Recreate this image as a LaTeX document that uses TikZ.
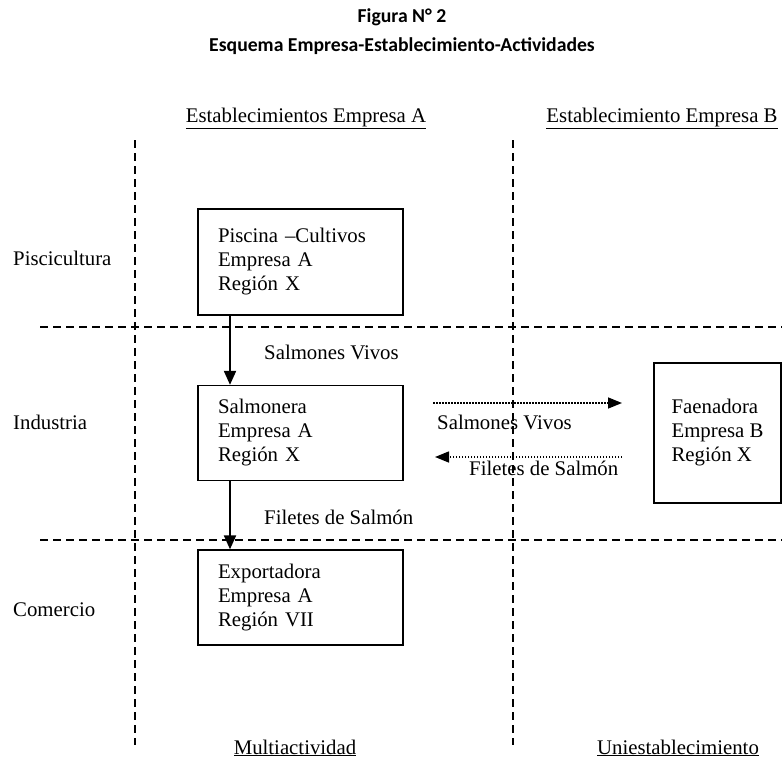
\documentclass[tikz,border=0pt]{standalone}
\usepackage{fontspec}
\setmainfont{Liberation Serif}
\newfontfamily\titlefont{Carlito}
\usetikzlibrary{arrows.meta,positioning,calc}

\tikzset{
  txt/.style={font=\fontsize{20.8bp}{24bp}\selectfont, inner sep=0pt},
  titletext/.style={font=\titlefont\bfseries\fontsize{19.7bp}{24bp}\selectfont, inner sep=0pt, anchor=base},
  divline/.style={line width=1.3bp, dash pattern=on 8bp off 5bp},
  estab/.style={draw, line width=1.3bp, txt, align=left, inner xsep=20bp, text width=165bp, minimum width=205bp},
  otherbox/.style={draw, line width=1.3bp, txt, align=left, minimum width=127bp, minimum height=140bp},
  flow/.style={line width=2bp, -{Triangle[length=14bp,width=12bp]}},
  flowdot/.style={line width=1.5bp, dash pattern=on 1.5bp off 1.5bp, -{Triangle[length=14bp,width=11bp]}},
}

\begin{document}
\begin{tikzpicture}[x=1bp,y=-1bp]
    \useasboundingbox (0,0) rectangle (782,761);

    % title
    \node[titletext] (fig) at (402,23) {Figura N° 2};
    \node[titletext] (esq) at (402,52) {Esquema Empresa-Establecimiento-Actividades};

    % dashed dividers
    \draw[divline] (135,140) -- (135,745);
    \draw[divline] (513,140) -- (513,745);
    \draw[divline] (40,327) -- (782,327);
    \draw[divline] (40,540) -- (782,540);

    % column headers and footers
    \node[txt, anchor=base] (colA) at (306,122) {\underline{Establecimientos Empresa A}};
    \node[txt, anchor=base] (colB) at (662,122) {\underline{Establecimiento Empresa B}};
    \node[txt, anchor=base] (multi) at (295,754) {\underline{Multiactividad}};
    \node[txt, anchor=base] (uni) at (678,754) {\underline{Uniestablecimiento}};

    % row labels
    \node[txt, anchor=west] (pisc) at (13,258) {Piscicultura};
    \node[txt, anchor=west] (indus) at (13,422) {Industria};
    \node[txt, anchor=west] (comer) at (13,610) {Comercio};

    % establishments
    \node[estab, minimum height=106bp] (cultivo) at (300.5,262) {Piscina –Cultivos\\Empresa A\\Región X};
    \node[estab, minimum height=95bp] (salmonera) at (300.5,433) {Salmonera\\Empresa A\\Región X};
    \node[estab, minimum height=95bp] (export) at (300.5,597.5) {Exportadora\\Empresa A\\Región VII};
    \node[otherbox] (faena) at (717.5,433) {Faenadora\\Empresa B\\Región X};

    % flows inside empresa A
    \coordinate (flowx) at (230,0);
    \draw[flow] (cultivo.south -| flowx) -- (salmonera.north -| flowx);
    \draw[flow] (salmonera.south -| flowx) -- (export.north -| flowx);
    \node[txt, anchor=west] (vivosA) at (264,352) {Salmones Vivos};
    \node[txt, anchor=west] (filetesA) at (264,517) {Filetes de Salmón};

    % flows between empresas
    \coordinate (goL) at (433,403);
    \coordinate (goR) at (622,403);
    \coordinate (backR) at (622,457);
    \coordinate (backL) at (435,457);
    \draw[flowdot] (goL) -- (goR);
    \draw[flowdot] (backR) -- (backL);
    \node[txt, anchor=west] (vivosB) at (437,422) {Salmones Vivos};
    \node[txt, anchor=west] (filetesB) at (469,468) {Filetes de Salmón};
\end{tikzpicture}
\end{document}
